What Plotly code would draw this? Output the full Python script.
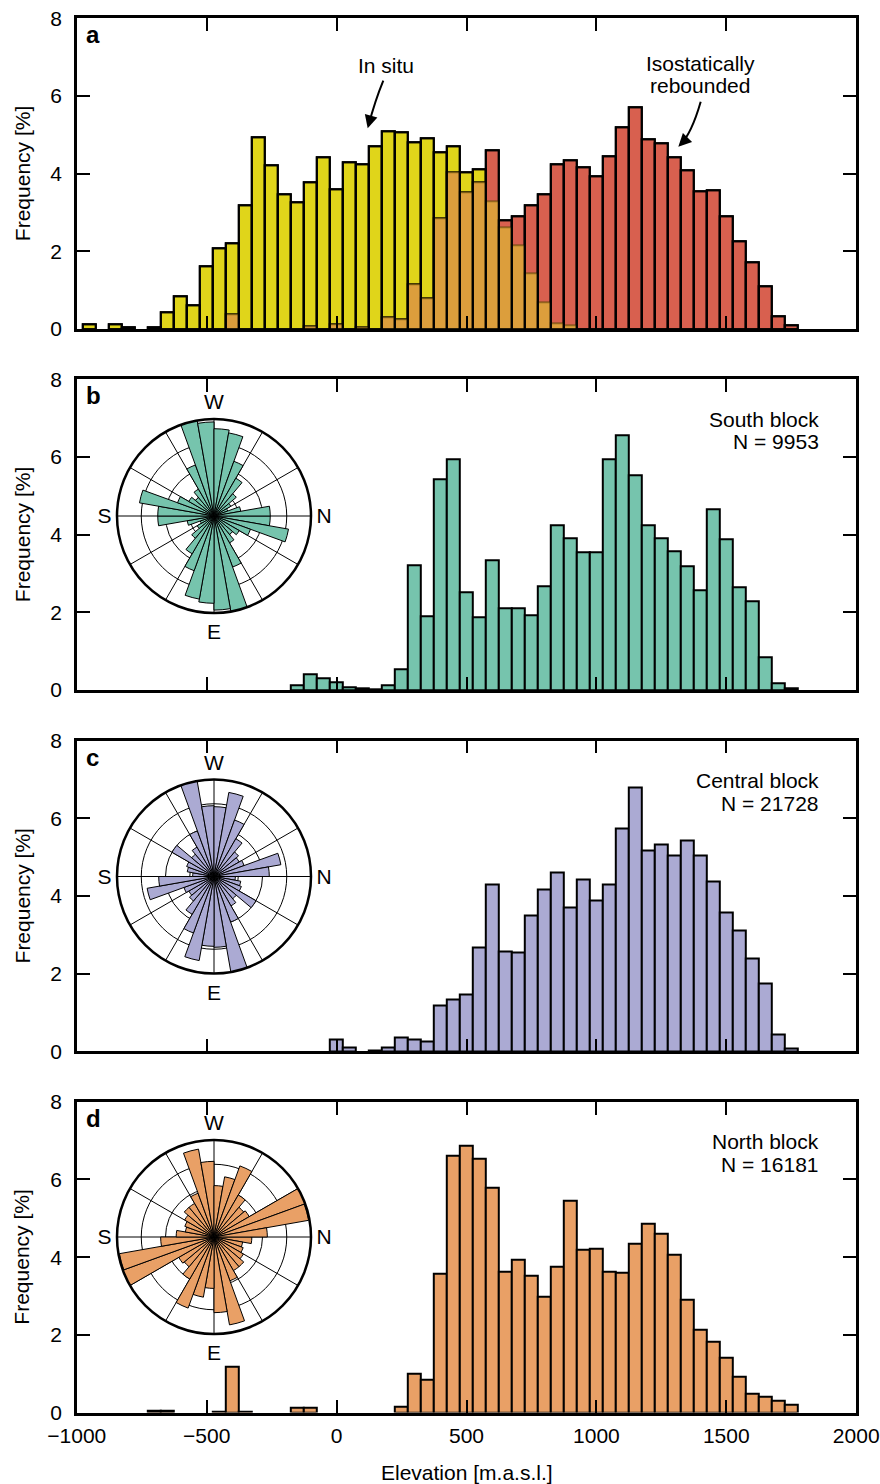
import plotly.graph_objects as go

W, H = 880, 1484
FONT = "Liberation Sans, Arial, Helvetica, sans-serif"

# ---------------- data ----------------
# bin centres (50 m bins), -950 ... 1750
elevation = list(range(-950, 1800, 50))

# panel a
in_situ = [0.12, 0.00, 0.12, 0.05, 0.00, 0.05, 0.42, 0.83, 0.62, 1.62,   # -950 .. -500
           2.09, 2.21, 3.19, 4.94, 4.21, 3.48, 3.26, 3.78, 4.42, 3.61,   # -450 .. 0
           4.29, 4.24, 4.70, 5.10, 5.07, 4.81, 4.91, 4.55, 4.70, 4.03,   # 50 .. 500
           4.12, 3.30, 2.62, 2.16, 1.43, 0.69, 0.15, 0.10, 0.00, 0.00,   # 550 .. 1000
           0.00, 0.00, 0.00, 0.00, 0.00, 0.00, 0.00, 0.00, 0.00, 0.00,   # 1050 .. 1500
           0.00, 0.00, 0.00, 0.00, 0.00]                                 # 1550 .. 1750
rebounded = [0.00, 0.00, 0.00, 0.00, 0.00, 0.00, 0.00, 0.00, 0.00, 0.00,
             0.00, 0.38, 0.00, 0.00, 0.00, 0.00, 0.00, 0.08, 0.00, 0.12,
             0.00, 0.05, 0.00, 0.30, 0.26, 1.16, 0.79, 2.85, 4.03, 3.51,
             3.79, 4.61, 2.81, 2.91, 3.18, 3.47, 4.24, 4.34, 4.16, 3.92,
             4.44, 5.19, 5.71, 4.89, 4.78, 4.42, 4.09, 3.54, 3.58, 2.89,
             2.27, 1.72, 1.09, 0.32, 0.10]
# panel b
south = [0.00, 0.00, 0.00, 0.00, 0.00, 0.00, 0.00, 0.00, 0.00, 0.00,
         0.00, 0.00, 0.00, 0.00, 0.00, 0.00, 0.13, 0.41, 0.30, 0.21,
         0.07, 0.04, 0.03, 0.13, 0.54, 3.20, 1.91, 5.42, 5.95, 2.51,
         1.88, 3.34, 2.11, 2.11, 1.92, 2.67, 4.24, 3.91, 3.54, 3.54,
         5.95, 6.56, 5.52, 4.24, 3.90, 3.57, 3.18, 2.58, 4.66, 3.87,
         2.64, 2.28, 0.84, 0.17, 0.04]
# panel c
central = [0.00, 0.00, 0.00, 0.00, 0.00, 0.00, 0.00, 0.00, 0.00, 0.00,
           0.00, 0.00, 0.00, 0.00, 0.00, 0.00, 0.00, 0.00, 0.00, 0.29,
           0.10, 0.00, 0.03, 0.10, 0.36, 0.31, 0.25, 1.17, 1.34, 1.45,
           2.66, 4.30, 2.57, 2.53, 3.50, 4.17, 4.59, 3.71, 4.41, 3.88,
           4.30, 5.74, 6.78, 5.18, 5.33, 5.05, 5.42, 5.05, 4.38, 3.57,
           3.12, 2.39, 1.74, 0.42, 0.06]
# panel d
north = [0.00, 0.00, 0.00, 0.00, 0.00, 0.05, 0.04, 0.00, 0.00, 0.00,
         0.03, 1.17, 0.02, 0.00, 0.00, 0.00, 0.11, 0.11, 0.00, 0.00,
         0.00, 0.00, 0.00, 0.00, 0.15, 0.99, 0.84, 3.57, 6.60, 6.88,
         6.54, 5.79, 3.62, 3.92, 3.51, 2.99, 3.74, 5.44, 4.19, 4.21,
         3.63, 3.59, 4.34, 4.86, 4.60, 4.06, 2.89, 2.13, 1.83, 1.42,
         0.92, 0.48, 0.41, 0.30, 0.21]

# rose diagrams: 10 degree sectors (compass degrees, centres 5..355)
rose_theta = list(range(5, 360, 10))
rose_south = [0.58, 0.78, 0.40, 0.30, 0.25, 0.32, 0.56, 1.00, 0.97, 0.90, 0.87, 0.60,
              0.45, 0.30, 0.20, 0.15, 0.28, 0.58,
              0.58, 0.78, 0.40, 0.30, 0.25, 0.32, 0.56, 1.00, 0.97, 0.90, 0.87, 0.60,
              0.45, 0.30, 0.20, 0.15, 0.28, 0.58]
rose_central = [0.22, 0.28, 0.30, 0.50, 0.30, 0.35, 0.50, 1.00, 0.73, 0.72, 0.88, 0.62,
                0.45, 0.33, 0.30, 0.33, 0.70, 0.57,
                0.22, 0.28, 0.30, 0.50, 0.30, 0.35, 0.50, 1.00, 0.73, 0.72, 0.88, 0.62,
                0.45, 0.33, 0.30, 0.33, 0.70, 0.57]
rose_north = [0.39, 0.30, 0.32, 0.35, 0.40, 0.40, 0.48, 0.92, 0.78, 0.53, 0.63, 0.78,
              0.50, 0.40, 0.42, 1.00, 0.99, 0.55,
              0.39, 0.30, 0.32, 0.35, 0.40, 0.40, 0.48, 0.92, 0.78, 0.53, 0.63, 0.78,
              0.50, 0.40, 0.42, 1.00, 0.99, 0.55]

block_names = ["South block", "Central block", "North block"]
block_counts = ["N = 9953", "N = 21728", "N = 16181"]
x_ticks = [-1000, -500, 0, 500, 1000, 1500, 2000]
x_tick_text = ["\u22121000", "\u2212500", "0", "500", "1000", "1500", "2000"]
y_ticks = [0, 2, 4, 6, 8]

# ---------------- styles ----------------
YEL = "#e0d51a"
RED = "#d8604f"
OVL = "#dc9e3c"
GREEN = "#76c4ad"
PURPLE = "#abaad3"
ORANGE = "#e9a066"


def px(x):
    return x / W


def py(y):
    return 1 - y / H


def nz(vals):
    # empty bins are not drawn
    return [v if v > 0 else None for v in vals]


X0, X1 = 76.8, 856.2
# (zero line px, top px)
panel_px = [(329.0, 18.3), (690.0, 379.3), (1051.3, 740.6), (1412.5, 1101.8)]

fig = go.Figure()

overlap = [min(a, b) for a, b in zip(in_situ, rebounded)]
upper = [max(a, b) for a, b in zip(in_situ, rebounded)]

bar_line = dict(color="black", width=2)
fig.add_trace(go.Bar(x=elevation, y=nz(in_situ), width=50, marker=dict(color=YEL, line=bar_line),
                     xaxis="x", yaxis="y"))
fig.add_trace(go.Bar(x=elevation, y=nz(rebounded), width=50, marker=dict(color=RED, line=bar_line),
                     xaxis="x", yaxis="y"))
fig.add_trace(go.Bar(x=elevation, y=nz(overlap), width=50,
                     marker=dict(color=OVL, line=dict(color="rgba(90,70,0,0.55)", width=2)),
                     xaxis="x", yaxis="y"))
fig.add_trace(go.Bar(x=elevation, y=nz(upper), width=50,
                     marker=dict(color="rgba(0,0,0,0)", line=bar_line),
                     xaxis="x", yaxis="y"))

for i, (vals, col) in enumerate([(south, GREEN), (central, PURPLE), (north, ORANGE)]):
    fig.add_trace(go.Bar(x=elevation, y=nz(vals), width=50, marker=dict(color=col, line=bar_line),
                         xaxis=f"x{i+2}", yaxis=f"y{i+2}"))

for i, (rv, col) in enumerate([(rose_south, GREEN), (rose_central, PURPLE), (rose_north, ORANGE)]):
    fig.add_trace(go.Barpolar(r=rv, theta=rose_theta, width=10,
                              marker=dict(color=col, line=dict(color="black", width=1)),
                              subplot="polar" if i == 0 else f"polar{i+1}"))

layout = dict(
    width=W, height=H, margin=dict(l=0, r=0, t=0, b=0),
    template="none", showlegend=False, barmode="overlay", bargap=0,
    paper_bgcolor="white", plot_bgcolor="white",
    font=dict(family=FONT, size=21, color="black"),
)

for i, (y0, y1) in enumerate(panel_px):
    sx = "" if i == 0 else str(i + 1)
    layout[f"xaxis{sx}"] = dict(
        domain=[px(X0), px(X1)], range=[-1000, 2000], anchor=f"y{sx}",
        tickvals=x_ticks, ticktext=x_tick_text,
        ticks="inside", ticklen=13, tickwidth=1.5, tickcolor="black",
        showline=True, linewidth=2.5, linecolor="black", mirror="ticks",
        showgrid=False, zeroline=False, showticklabels=(i == 3),
        tickfont=dict(size=21), ticklabelstandoff=3,
    )
    layout[f"yaxis{sx}"] = dict(
        domain=[py(y0), py(y1)], range=[0, 8], anchor=f"x{sx}",
        tickvals=y_ticks, ticks="inside", ticklen=13, tickwidth=1.5, tickcolor="black",
        showline=True, linewidth=2.5, linecolor="black", mirror="ticks",
        showgrid=False, zeroline=False, tickfont=dict(size=21), ticklabelstandoff=8,
    )

# rose diagrams
R = 97
centres = [(214, 516), (214, 876.5), (214, 1237)]
for i, (cx, cy) in enumerate(centres):
    key = "polar" if i == 0 else f"polar{i+1}"
    layout[key] = dict(
        domain=dict(x=[px(cx - R), px(cx + R)], y=[py(cy + R), py(cy - R)]),
        bgcolor="white", hole=0,
        angularaxis=dict(rotation=0, direction="clockwise",
                         tickvals=list(range(0, 360, 30)),
                         ticktext=["N", "", "", "E", "", "", "S", "", "", "W", "", ""],
                         showline=True, linecolor="black", linewidth=2.5,
                         showgrid=True, gridcolor="black", gridwidth=1, ticks="",
                         tickfont=dict(size=21)),
        radialaxis=dict(range=[0, 1], tickvals=[0.25, 0.5, 0.75, 1.0], showticklabels=False,
                        showline=False, ticks="", showgrid=True, gridcolor="black", gridwidth=0.8),
    )

ann = []
# y titles
for (y0, y1) in panel_px:
    ann.append(dict(x=px(22), y=py((y0 + y1) / 2 + 0.5), xref="paper", yref="paper",
                    text="Frequency [%]", textangle=-90, showarrow=False,
                    xanchor="center", yanchor="middle", font=dict(size=21)))
ann.append(dict(x=px(467), y=py(1472), xref="paper", yref="paper", text="Elevation [m.a.s.l.]",
                showarrow=False, xanchor="center", yanchor="middle", font=dict(size=21)))
# panel letters
for letter, (y0, y1) in zip("abcd", panel_px):
    ann.append(dict(x=px(84), y=py(y1 + 16.5), xref="paper", yref="paper",
                    text=f"<b>{letter}</b>", showarrow=False, xanchor="left", yanchor="middle",
                    font=dict(size=24)))
# block labels
for (y0, y1), name, cnt in zip(panel_px[1:], block_names, block_counts):
    ann.append(dict(x=px(821), y=py(y1 + 40), xref="paper", yref="paper", text=name,
                    showarrow=False, xanchor="right", yanchor="middle", font=dict(size=21)))
    ann.append(dict(x=px(821), y=py(y1 + 62.5), xref="paper", yref="paper", text=cnt,
                    showarrow=False, xanchor="right", yanchor="middle", font=dict(size=21)))
# panel a labels
ann.append(dict(x=px(386), y=py(65), xref="paper", yref="paper", text="In situ",
                showarrow=False, xanchor="center", yanchor="middle", font=dict(size=21)))
ann.append(dict(x=px(700), y=py(63), xref="paper", yref="paper", text="Isostatically",
                showarrow=False, xanchor="center", yanchor="middle", font=dict(size=21)))
ann.append(dict(x=px(700), y=py(85), xref="paper", yref="paper", text="rebounded",
                showarrow=False, xanchor="center", yanchor="middle", font=dict(size=21)))
# arrowheads
ann.append(dict(x=px(367.7), y=py(128.3), xref="paper", yref="paper", text="", showarrow=True,
                ax=3, ay=-11, arrowhead=2, arrowsize=1.3, arrowwidth=2, arrowcolor="black",
                standoff=0))
ann.append(dict(x=px(678.3), y=py(146.7), xref="paper", yref="paper", text="", showarrow=True,
                ax=8, ay=-8, arrowhead=2, arrowsize=1.3, arrowwidth=2, arrowcolor="black",
                standoff=0))
layout["annotations"] = ann

layout["shapes"] = [
    dict(type="path", xref="paper", yref="paper",
         path=f"M {px(383.3)},{py(80.7)} Q {px(375.1)},{py(100.6)} {px(368.5)},{py(125.5)}",
         line=dict(color="black", width=2)),
    dict(type="path", xref="paper", yref="paper",
         path=f"M {px(700.7)},{py(101.7)} Q {px(691.5)},{py(133.5)} {px(680.5)},{py(144.5)}",
         line=dict(color="black", width=2)),
]

fig.update_layout(**layout)
fig.write_html("out.html")
